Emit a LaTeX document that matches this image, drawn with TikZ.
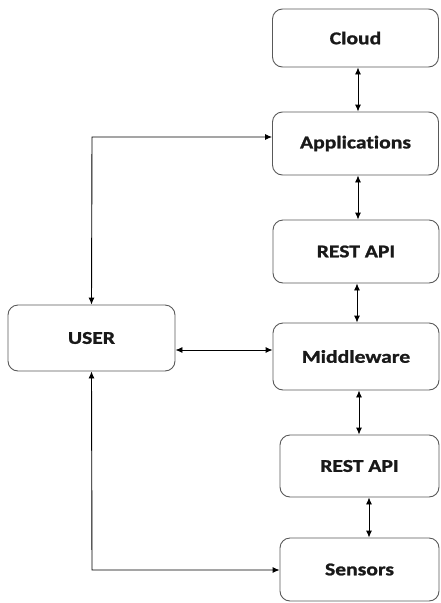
\documentclass[tikz,border=0pt]{standalone}
\usepackage{fontspec}
\newfontfamily\lbl[FakeStretch=1.2,Ligatures=NoCommon,BoldFeatures={FakeBold=1.2}]{Carlito}
\usetikzlibrary{arrows.meta}
\tikzset{
  box/.style={draw=black!65, line width=0.9pt, rounded corners=10pt, fill=white, inner sep=0pt,
    font=\lbl\bfseries\fontsize{18}{21}\selectfont, text=black!90},
  link/.style={draw=black, line width=0.9pt, {Latex[length=7pt,width=6pt]}-{Latex[length=7pt,width=6pt]}},
  onearrow/.style={draw=black, line width=0.9pt, -{Latex[length=7pt,width=6pt]}}
}
\begin{document}
\begin{tikzpicture}[x=1pt,y=-1pt]
\useasboundingbox (0,0) rectangle (441,603);
\node[box, minimum width=166pt, minimum height=58pt] (cloud) at (355.5,38) {Cloud};
\node[box, minimum width=166pt, minimum height=63pt] (apps) at (355.5,143.5) {Applications};
\node[box, minimum width=166pt, minimum height=63pt] (rest1) at (356,251.5) {REST API};
\node[box, minimum width=166pt, minimum height=67pt] (mid) at (356,356.5) {Middleware};
\node[box, minimum width=159pt, minimum height=62pt] (rest2) at (359.5,466) {REST API};
\node[box, minimum width=159pt, minimum height=63pt] (sens) at (359.5,569.5) {Sensors};
\node[box, minimum width=167pt, minimum height=66pt] (user) at (91.5,338) {USER};
\coordinate (c1) at (92,137);
\coordinate (c2) at (92,570);
\draw[link] (cloud.south -| 358,0) -- (apps.north -| 358,0);
\draw[link] (apps.south -| 358,0) -- (rest1.north -| 358,0);
\draw[link] (rest1.south -| 357,0) -- (mid.north -| 357,0);
\draw[link] (mid.south -| 359,0) -- (rest2.north -| 359,0);
\draw[link] (rest2.south -| 369,0) -- (sens.north -| 369,0);
\draw[link] (user.east |- 0,350) -- (mid.west |- 0,350);
\draw[link] (user.north) -- (c1) -- (apps.west |- c1);
\draw[link] (user.south) -- (c2) -- (sens.west |- c2);
\end{tikzpicture}
\end{document}
